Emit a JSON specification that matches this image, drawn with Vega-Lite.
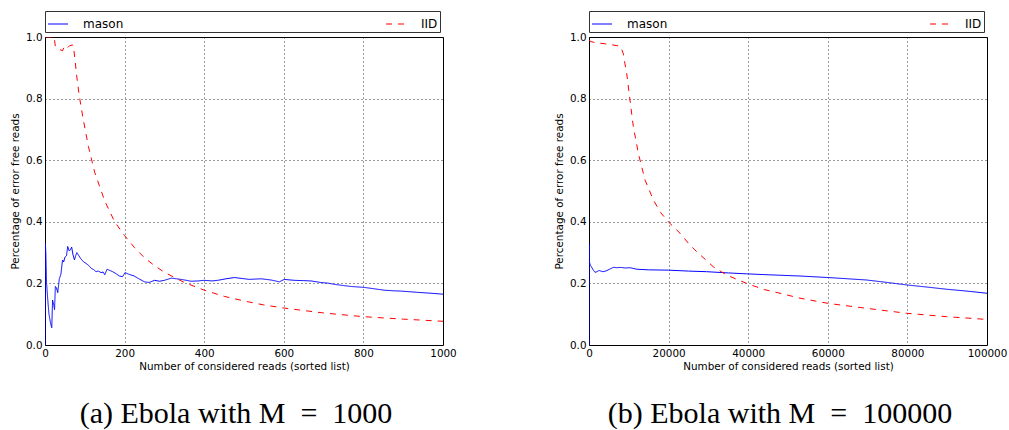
{
  "$schema": "https://vega.github.io/schema/vega-lite/v6.json",
  "background": "white",
  "padding": {"left": 9, "top": 10, "right": 5, "bottom": 0},
  "config": {
    "view": {"stroke": "black", "strokeWidth": 1},
    "axis": {
      "domain": false, "ticks": false, "grid": true, "labelFlush": false,
      "gridColor": "black", "gridDash": [1, 3], "gridWidth": 0.8, "gridOpacity": 1,
      "labelFont": "DejaVu Sans", "labelFontSize": 10.4, "labelColor": "black", "labelPadding": 3,
      "titleFont": "DejaVu Sans", "titleFontSize": 10.4, "titleFontWeight": "normal", "titleColor": "black"
    },
    "axisX": {"titlePadding": 3},
    "axisY": {"titlePadding": 5},
    "legend": {"labelFont": "DejaVu Sans"},
    "title": {"font": "Liberation Serif", "fontSize": 30, "fontWeight": "normal", "color": "black", "orient": "bottom", "frame": "group", "anchor": "middle", "offset": 27}
  },
  "datasets": {
    "a": [
      {"x":0,"y":0,"s":"mason"},{"x":1,"y":0.33,"s":"mason"},{"x":2,"y":0.3,"s":"mason"},{"x":4,"y":0.2,"s":"mason"},{"x":7,"y":0.146,"s":"mason"},{"x":10,"y":0.1,"s":"mason"},{"x":14,"y":0.07,"s":"mason"},{"x":17,"y":0.056,"s":"mason"},{"x":19,"y":0.146,"s":"mason"},{"x":22,"y":0.13,"s":"mason"},{"x":24,"y":0.115,"s":"mason"},{"x":26,"y":0.19,"s":"mason"},{"x":29,"y":0.185,"s":"mason"},{"x":32,"y":0.17,"s":"mason"},{"x":36,"y":0.215,"s":"mason"},{"x":40,"y":0.23,"s":"mason"},{"x":44,"y":0.276,"s":"mason"},{"x":47,"y":0.27,"s":"mason"},{"x":50,"y":0.285,"s":"mason"},{"x":54,"y":0.29,"s":"mason"},{"x":57,"y":0.32,"s":"mason"},{"x":61,"y":0.305,"s":"mason"},{"x":64,"y":0.31,"s":"mason"},{"x":67,"y":0.318,"s":"mason"},{"x":70,"y":0.295,"s":"mason"},{"x":74,"y":0.276,"s":"mason"},{"x":77,"y":0.29,"s":"mason"},{"x":80,"y":0.3,"s":"mason"},{"x":85,"y":0.29,"s":"mason"},{"x":90,"y":0.28,"s":"mason"},{"x":97,"y":0.27,"s":"mason"},{"x":103,"y":0.265,"s":"mason"},{"x":110,"y":0.258,"s":"mason"},{"x":116,"y":0.249,"s":"mason"},{"x":122,"y":0.245,"s":"mason"},{"x":128,"y":0.238,"s":"mason"},{"x":134,"y":0.24,"s":"mason"},{"x":141,"y":0.235,"s":"mason"},{"x":146,"y":0.237,"s":"mason"},{"x":150,"y":0.228,"s":"mason"},{"x":156,"y":0.246,"s":"mason"},{"x":163,"y":0.242,"s":"mason"},{"x":170,"y":0.238,"s":"mason"},{"x":178,"y":0.232,"s":"mason"},{"x":187,"y":0.224,"s":"mason"},{"x":195,"y":0.222,"s":"mason"},{"x":201,"y":0.235,"s":"mason"},{"x":210,"y":0.23,"s":"mason"},{"x":224,"y":0.224,"s":"mason"},{"x":236,"y":0.215,"s":"mason"},{"x":250,"y":0.205,"s":"mason"},{"x":262,"y":0.203,"s":"mason"},{"x":275,"y":0.21,"s":"mason"},{"x":288,"y":0.207,"s":"mason"},{"x":300,"y":0.21,"s":"mason"},{"x":317,"y":0.217,"s":"mason"},{"x":330,"y":0.215,"s":"mason"},{"x":342,"y":0.213,"s":"mason"},{"x":355,"y":0.21,"s":"mason"},{"x":367,"y":0.207,"s":"mason"},{"x":385,"y":0.208,"s":"mason"},{"x":400,"y":0.21,"s":"mason"},{"x":420,"y":0.208,"s":"mason"},{"x":434,"y":0.21,"s":"mason"},{"x":455,"y":0.215,"s":"mason"},{"x":476,"y":0.219,"s":"mason"},{"x":495,"y":0.216,"s":"mason"},{"x":513,"y":0.213,"s":"mason"},{"x":543,"y":0.215,"s":"mason"},{"x":568,"y":0.211,"s":"mason"},{"x":589,"y":0.205,"s":"mason"},{"x":601,"y":0.213,"s":"mason"},{"x":626,"y":0.21,"s":"mason"},{"x":650,"y":0.209,"s":"mason"},{"x":668,"y":0.208,"s":"mason"},{"x":693,"y":0.203,"s":"mason"},{"x":710,"y":0.201,"s":"mason"},{"x":727,"y":0.197,"s":"mason"},{"x":750,"y":0.193,"s":"mason"},{"x":769,"y":0.19,"s":"mason"},{"x":802,"y":0.187,"s":"mason"},{"x":830,"y":0.182,"s":"mason"},{"x":852,"y":0.178,"s":"mason"},{"x":875,"y":0.176,"s":"mason"},{"x":894,"y":0.175,"s":"mason"},{"x":915,"y":0.173,"s":"mason"},{"x":936,"y":0.171,"s":"mason"},{"x":970,"y":0.168,"s":"mason"},{"x":1000,"y":0.165,"s":"mason"},
      {"x":1,"y":1.0,"s":"IID"},{"x":23,"y":1.0,"s":"IID"},{"x":26,"y":0.97,"s":"IID"},{"x":30,"y":0.967,"s":"IID"},{"x":35,"y":0.96,"s":"IID"},{"x":40,"y":0.958,"s":"IID"},{"x":44,"y":0.955,"s":"IID"},{"x":48,"y":0.968,"s":"IID"},{"x":52,"y":0.962,"s":"IID"},{"x":56,"y":0.964,"s":"IID"},{"x":62,"y":0.972,"s":"IID"},{"x":70,"y":0.974,"s":"IID"},{"x":72,"y":0.965,"s":"IID"},{"x":75,"y":0.93,"s":"IID"},{"x":80,"y":0.87,"s":"IID"},{"x":86,"y":0.81,"s":"IID"},{"x":95,"y":0.74,"s":"IID"},{"x":109,"y":0.645,"s":"IID"},{"x":125,"y":0.56,"s":"IID"},{"x":150,"y":0.468,"s":"IID"},{"x":175,"y":0.4,"s":"IID"},{"x":200,"y":0.355,"s":"IID"},{"x":225,"y":0.316,"s":"IID"},{"x":250,"y":0.283,"s":"IID"},{"x":275,"y":0.258,"s":"IID"},{"x":300,"y":0.236,"s":"IID"},{"x":350,"y":0.203,"s":"IID"},{"x":400,"y":0.178,"s":"IID"},{"x":450,"y":0.158,"s":"IID"},{"x":500,"y":0.143,"s":"IID"},{"x":550,"y":0.13,"s":"IID"},{"x":600,"y":0.12,"s":"IID"},{"x":700,"y":0.104,"s":"IID"},{"x":800,"y":0.092,"s":"IID"},{"x":900,"y":0.084,"s":"IID"},{"x":1000,"y":0.077,"s":"IID"}
    ],
    "b": [
      {"x":0,"y":0,"s":"mason"},{"x":20,"y":0.33,"s":"mason"},{"x":100,"y":0.27,"s":"mason"},{"x":300,"y":0.26,"s":"mason"},{"x":600,"y":0.254,"s":"mason"},{"x":1000,"y":0.245,"s":"mason"},{"x":1500,"y":0.236,"s":"mason"},{"x":2000,"y":0.238,"s":"mason"},{"x":2500,"y":0.242,"s":"mason"},{"x":3000,"y":0.24,"s":"mason"},{"x":3500,"y":0.238,"s":"mason"},{"x":4200,"y":0.24,"s":"mason"},{"x":5000,"y":0.245,"s":"mason"},{"x":6110,"y":0.252,"s":"mason"},{"x":7000,"y":0.251,"s":"mason"},{"x":8000,"y":0.252,"s":"mason"},{"x":9000,"y":0.25,"s":"mason"},{"x":10300,"y":0.251,"s":"mason"},{"x":12000,"y":0.246,"s":"mason"},{"x":15000,"y":0.244,"s":"mason"},{"x":19930,"y":0.243,"s":"mason"},{"x":25000,"y":0.24,"s":"mason"},{"x":29570,"y":0.238,"s":"mason"},{"x":35000,"y":0.234,"s":"mason"},{"x":39600,"y":0.231,"s":"mason"},{"x":45000,"y":0.228,"s":"mason"},{"x":53000,"y":0.224,"s":"mason"},{"x":60130,"y":0.219,"s":"mason"},{"x":65000,"y":0.215,"s":"mason"},{"x":69770,"y":0.211,"s":"mason"},{"x":75000,"y":0.203,"s":"mason"},{"x":79820,"y":0.195,"s":"mason"},{"x":85000,"y":0.188,"s":"mason"},{"x":89870,"y":0.181,"s":"mason"},{"x":95000,"y":0.175,"s":"mason"},{"x":100000,"y":0.168,"s":"mason"},
      {"x":0,"y":0.99,"s":"IID"},{"x":500,"y":0.985,"s":"IID"},{"x":1500,"y":0.982,"s":"IID"},{"x":2760,"y":0.98,"s":"IID"},{"x":4000,"y":0.978,"s":"IID"},{"x":5500,"y":0.975,"s":"IID"},{"x":7000,"y":0.972,"s":"IID"},{"x":7790,"y":0.971,"s":"IID"},{"x":8200,"y":0.96,"s":"IID"},{"x":8600,"y":0.947,"s":"IID"},{"x":9000,"y":0.915,"s":"IID"},{"x":9470,"y":0.882,"s":"IID"},{"x":10300,"y":0.795,"s":"IID"},{"x":11140,"y":0.709,"s":"IID"},{"x":12400,"y":0.622,"s":"IID"},{"x":14070,"y":0.536,"s":"IID"},{"x":16160,"y":0.471,"s":"IID"},{"x":18000,"y":0.43,"s":"IID"},{"x":19930,"y":0.4,"s":"IID"},{"x":22860,"y":0.363,"s":"IID"},{"x":25000,"y":0.33,"s":"IID"},{"x":27060,"y":0.303,"s":"IID"},{"x":31240,"y":0.254,"s":"IID"},{"x":34600,"y":0.227,"s":"IID"},{"x":39600,"y":0.2,"s":"IID"},{"x":44000,"y":0.18,"s":"IID"},{"x":47990,"y":0.168,"s":"IID"},{"x":53000,"y":0.152,"s":"IID"},{"x":60130,"y":0.135,"s":"IID"},{"x":69770,"y":0.119,"s":"IID"},{"x":79820,"y":0.103,"s":"IID"},{"x":89870,"y":0.092,"s":"IID"},{"x":100000,"y":0.083,"s":"IID"}
    ]
  },
  "spacing": 96,
  "resolve": {"legend": {"color": "independent", "strokeDash": "independent"}},
  "hconcat": [
    {
      "width": 398, "height": 308,
      "title": {"text": "(a) Ebola with M\u00a0\u00a0=\u00a0\u00a01000", "dx": -8, "font": "Liberation Serif"},
      "data": {"name": "a"},
      "mark": {"type": "line", "strokeWidth": 1, "clip": true},
      "encoding": {
        "x": {"field": "x", "type": "quantitative", "scale": {"domain": [0, 1000], "nice": false, "zero": false},
              "axis": {"values": [0, 200, 400, 600, 800, 1000], "format": "d", "title": "Number of considered reads (sorted list)"}},
        "y": {"field": "y", "type": "quantitative", "scale": {"domain": [0, 1], "nice": false},
              "axis": {"values": [0, 0.2, 0.4, 0.6, 0.8, 1.0], "format": ".1f", "title": "Percentage of error free reads"}},
        "color": {"field": "s", "type": "nominal", "scale": {"domain": ["mason", "IID"], "range": ["#0000ff", "#ff0000"]},
                  "legend": {"title": null, "orient": "none", "legendX": 0, "legendY": -26, "direction": "horizontal", "columns": 2, "strokeColor": "#333333", "fillColor": "white", "padding": 2, "cornerRadius": 0, "symbolType": "stroke", "symbolSize": 400, "symbolStrokeWidth": 1.2, "labelFont": "DejaVu Sans", "labelFontSize": 12, "labelColor": "black", "labelOffset": 14, "columnPadding": 259, "rowPadding": 0}},
        "strokeDash": {"field": "s", "type": "nominal", "scale": {"domain": ["mason", "IID"], "range": [[1, 0], [6, 6]]},
                  "legend": {"title": null, "orient": "none", "legendX": 0, "legendY": -26, "direction": "horizontal", "columns": 2, "strokeColor": "#333333", "fillColor": "white", "padding": 2, "cornerRadius": 0, "symbolType": "stroke", "symbolSize": 400, "symbolStrokeWidth": 1.2, "labelFont": "DejaVu Sans", "labelFontSize": 12, "labelColor": "black", "labelOffset": 14, "columnPadding": 259, "rowPadding": 0}}
      }
    },
    {
      "width": 398, "height": 308,
      "title": {"text": "(b) Ebola with M\u00a0\u00a0=\u00a0\u00a0100000", "dx": -8, "font": "Liberation Serif"},
      "data": {"name": "b"},
      "mark": {"type": "line", "strokeWidth": 1, "clip": true},
      "encoding": {
        "x": {"field": "x", "type": "quantitative", "scale": {"domain": [0, 100000], "nice": false, "zero": false},
              "axis": {"values": [0, 20000, 40000, 60000, 80000, 100000], "format": "d", "title": "Number of considered reads (sorted list)"}},
        "y": {"field": "y", "type": "quantitative", "scale": {"domain": [0, 1], "nice": false},
              "axis": {"values": [0, 0.2, 0.4, 0.6, 0.8, 1.0], "format": ".1f", "title": "Percentage of error free reads"}},
        "color": {"field": "s", "type": "nominal", "scale": {"domain": ["mason", "IID"], "range": ["#0000ff", "#ff0000"]},
                  "legend": {"title": null, "orient": "none", "legendX": 0, "legendY": -26, "direction": "horizontal", "columns": 2, "strokeColor": "#333333", "fillColor": "white", "padding": 2, "cornerRadius": 0, "symbolType": "stroke", "symbolSize": 400, "symbolStrokeWidth": 1.2, "labelFont": "DejaVu Sans", "labelFontSize": 12, "labelColor": "black", "labelOffset": 14, "columnPadding": 259, "rowPadding": 0}},
        "strokeDash": {"field": "s", "type": "nominal", "scale": {"domain": ["mason", "IID"], "range": [[1, 0], [6, 6]]},
                  "legend": {"title": null, "orient": "none", "legendX": 0, "legendY": -26, "direction": "horizontal", "columns": 2, "strokeColor": "#333333", "fillColor": "white", "padding": 2, "cornerRadius": 0, "symbolType": "stroke", "symbolSize": 400, "symbolStrokeWidth": 1.2, "labelFont": "DejaVu Sans", "labelFontSize": 12, "labelColor": "black", "labelOffset": 14, "columnPadding": 259, "rowPadding": 0}}
      }
    }
  ]
}
